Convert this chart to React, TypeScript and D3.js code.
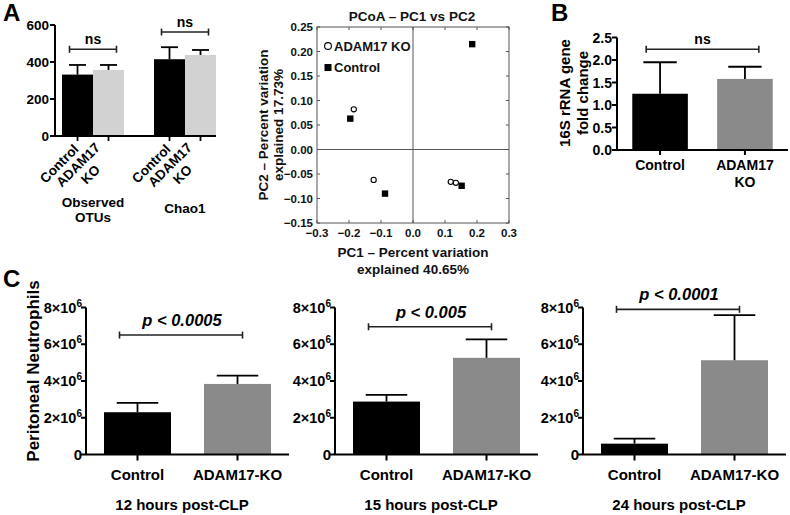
import React from 'react';
import * as d3 from 'd3';

const FONT = '"Liberation Sans", Arial, Helvetica, sans-serif';

// ---------- Panel A: alpha diversity ----------
const alphaGroups = ['Observed OTUs', 'Chao1'];
const alphaGroupLines = [['Observed', 'OTUs'], ['Chao1']];
const alphaCats = ['Control', 'ADAM17 KO'];
const alphaMeans = [[332, 357], [415, 438]];
const alphaErr = [[384, 384], [480, 465]];
const alphaTicks = [0, 200, 400, 600];
const alphaSig = ['ns', 'ns'];
const alphaSigY = [469, 562];
const alphaColors = ['#000000', '#d2d2d2'];

// ---------- PCoA ----------
const pcoaKO = [[-0.185, 0.082], [-0.123, -0.062], [0.118, -0.066], [0.134, -0.068]];
const pcoaCtrl = [[-0.196, 0.063], [-0.0875, -0.09], [0.152, -0.074], [0.185, 0.215]];
const pcoaXTicks = [-0.3, -0.2, -0.1, 0.0, 0.1, 0.2, 0.3];
const pcoaYTicks = [-0.15, -0.1, -0.05, 0.0, 0.05, 0.1, 0.15, 0.2, 0.25];

// ---------- Panel B: 16S ----------
const qpcrCats = ['Control', 'ADAM17 KO'];
const qpcrMeans = [1.25, 1.58];
const qpcrErr = [1.95, 1.85];
const qpcrTicks = [0, 0.5, 1.0, 1.5, 2.0, 2.5];
const qpcrSigY = 2.24;
const bColors = ['#000000', '#8a8a8a'];

// ---------- Panel C: neutrophils ----------
const clpTimes = ['12 hours post-CLP', '15 hours post-CLP', '24 hours post-CLP'];
const clpCats = ['Control', 'ADAM17-KO'];
const clpMeans = [[2.3e6, 3.84e6], [2.88e6, 5.26e6], [0.59e6, 5.13e6]];
const clpErr = [[2.81e6, 4.29e6], [3.24e6, 6.27e6], [0.86e6, 7.58e6]];
const clpP = ['p < 0.0005', 'p < 0.005', 'p < 0.0001'];
const clpSigY = [6.5e6, 6.95e6, 7.9e6];
const clpTicks = [0, 2e6, 4e6, 6e6, 8e6];

function Bracket({ x1, x2, y }: { x1: number; x2: number; y: number }) {
  return (
    <g stroke="#222" strokeWidth={1.6}>
      <line x1={x1} x2={x2} y1={y} y2={y} />
      <line x1={x1} x2={x1} y1={y - 3.5} y2={y + 3.5} />
      <line x1={x2} x2={x2} y1={y - 3.5} y2={y + 3.5} />
    </g>
  );
}

function ErrBar({ cx, y1, y2, w }: { cx: number; y1: number; y2: number; w: number }) {
  return (
    <g stroke="#000" strokeWidth={1.8}>
      <line x1={cx} x2={cx} y1={y1} y2={y2} />
      <line x1={cx - w / 2} x2={cx + w / 2} y1={y2} y2={y2} />
    </g>
  );
}

function PanelA() {
  const y = d3.scaleLinear().domain([0, 600]).range([136, 25]);
  const gx = d3.scaleBand().domain(alphaGroups).range([62, 216]).paddingInner(0.326).paddingOuter(0);
  const ix = d3.scaleBand().domain(alphaCats).range([0, gx.bandwidth()]);
  const axX = 55;
  return (
    <g fontFamily={FONT} fontWeight="bold">
      {alphaGroups.map((g, gi) => {
        const t0 = (gx(g) as number) + ix.bandwidth() / 2;
        const t1 = (gx(g) as number) + ix.bandwidth() * 1.5;
        return (
          <g key={g}>
            {alphaCats.map((c, ci) => {
              const x0 = (gx(g) as number) + (ix(c) as number);
              const w = ix.bandwidth();
              return (
                <g key={c}>
                  <rect x={x0} y={y(alphaMeans[gi][ci])} width={w} height={y(0) - y(alphaMeans[gi][ci])} fill={alphaColors[ci]} />
                  <ErrBar cx={x0 + w / 2} y1={y(alphaMeans[gi][ci])} y2={y(alphaErr[gi][ci])} w={w * 0.55} />
                  <line x1={x0 + w / 2} x2={x0 + w / 2} y1={y(0)} y2={y(0) + 5} stroke="#000" strokeWidth={1.8} />
                </g>
              );
            })}
            <Bracket x1={t0 - 8} x2={t1 + 8} y={y(alphaSigY[gi])} />
            <text x={(t0 + t1) / 2} y={y(alphaSigY[gi]) - 5} textAnchor="middle" fontSize={14}>{alphaSig[gi]}</text>
            <g transform={`translate(${t0},${y(0)}) rotate(-45)`}>
              <text x={-8.5} y={11.3} textAnchor="end" fontSize={13.5}>Control</text>
            </g>
            <g transform={`translate(${t1},${y(0)}) rotate(-45)`}>
              <text textAnchor="middle" fontSize={13.5}>
                <tspan x={-42} y={3.5}>ADAM17</tspan>
                <tspan x={-40} y={19}>KO</tspan>
              </text>
            </g>
            <text textAnchor="middle" fontSize={13.5}>
              {alphaGroupLines[gi].map((l, li) => (
                <tspan key={li} x={(t0 + t1) / 2} y={(alphaGroupLines[gi].length === 1 ? 213 : 207) + li * 15}>{l}</tspan>
              ))}
            </text>
          </g>
        );
      })}
      <line x1={axX} x2={axX} y1={y(600)} y2={y(0)} stroke="#000" strokeWidth={2} />
      <line x1={axX} x2={216} y1={y(0)} y2={y(0)} stroke="#000" strokeWidth={2} />
      {alphaTicks.map((t) => (
        <g key={t}>
          <line x1={axX - 5} x2={axX} y1={y(t)} y2={y(t)} stroke="#000" strokeWidth={2} />
          <text x={axX - 6} y={y(t) + 5} textAnchor="end" fontSize={13.5}>{t}</text>
        </g>
      ))}
      <text x={3} y={21} fontSize={24}>A</text>
    </g>
  );
}

function PanelPCoA() {
  const x = d3.scaleLinear().domain([-0.3, 0.3]).range([317, 509]);
  const y = d3.scaleLinear().domain([-0.15, 0.25]).range([223, 27]);
  const fmtX = d3.format('.1f');
  const fmtY = d3.format('.2f');
  const gray = '#555';
  return (
    <g fontFamily={FONT} fontWeight="bold" fill="#111">
      <rect x={x(-0.3)} y={y(0.25)} width={x(0.3) - x(-0.3)} height={y(-0.15) - y(0.25)} fill="none" stroke={gray} strokeWidth={1} />
      <line x1={x(0)} x2={x(0)} y1={y(0.25)} y2={y(-0.15)} stroke={gray} strokeWidth={1} />
      <line x1={x(-0.3)} x2={x(0.3)} y1={y(0)} y2={y(0)} stroke={gray} strokeWidth={1} />
      {pcoaXTicks.map((t) => (
        <g key={t}>
          <line x1={x(t)} x2={x(t)} y1={y(-0.15)} y2={y(-0.15) - 3} stroke={gray} />
          <line x1={x(t)} x2={x(t)} y1={y(0.25)} y2={y(0.25) + 3} stroke={gray} />
          <text x={x(t)} y={y(-0.15) + 14} textAnchor="middle" fontSize={11.5}>{fmtX(t)}</text>
        </g>
      ))}
      {pcoaYTicks.map((t) => (
        <g key={t}>
          <line x1={x(-0.3)} x2={x(-0.3) + 3} y1={y(t)} y2={y(t)} stroke={gray} />
          <line x1={x(0.3)} x2={x(0.3) - 3} y1={y(t)} y2={y(t)} stroke={gray} />
          <text x={x(-0.3) - 4} y={y(t) + 4} textAnchor="end" fontSize={11.5}>{fmtY(t)}</text>
        </g>
      ))}
      {pcoaKO.map((p, i) => (
        <circle key={'k' + i} cx={x(p[0])} cy={y(p[1])} r={2.6} fill="#fff" stroke="#000" strokeWidth={1.1} />
      ))}
      {pcoaCtrl.map((p, i) => (
        <rect key={'c' + i} x={x(p[0]) - 3.2} y={y(p[1]) - 3.2} width={6.4} height={6.4} fill="#000" />
      ))}
      <circle cx={328} cy={46} r={3.4} fill="#fff" stroke="#000" strokeWidth={1.1} />
      <text x={334} y={51} fontSize={13}>ADAM17 KO</text>
      <rect x={324.5} y={64} width={7} height={7} fill="#000" />
      <text x={334} y={72} fontSize={13}>Control</text>
      <text x={412} y={21} textAnchor="middle" fontSize={13.5}>PCoA – PC1 vs PC2</text>
      <text transform={`translate(268,125) rotate(-90)`} textAnchor="middle" fontSize={13.5}>PC2 – Percent variation</text>
      <text transform={`translate(283,125) rotate(-90)`} textAnchor="middle" fontSize={13.5}>explained 17.73%</text>
      <text x={413} y={257} textAnchor="middle" fontSize={13.5}>PC1 – Percent variation</text>
      <text x={413} y={274} textAnchor="middle" fontSize={13.5}>explained 40.65%</text>
    </g>
  );
}

function PanelB() {
  const y = d3.scaleLinear().domain([0, 2.5]).range([150, 37.5]);
  const axX = 617;
  const x = d3.scaleBand().domain(qpcrCats).range([axX, 788]).paddingInner(0.345).paddingOuter(0.18);
  const fmt = d3.format('.1f');
  const w = x.bandwidth();
  return (
    <g fontFamily={FONT} fontWeight="bold">
      {qpcrCats.map((c, i) => {
        const x0 = x(c) as number;
        return (
          <g key={c}>
            <rect x={x0} y={y(qpcrMeans[i])} width={w} height={y(0) - y(qpcrMeans[i])} fill={bColors[i]} />
            <ErrBar cx={x0 + w / 2} y1={y(qpcrMeans[i])} y2={y(qpcrErr[i])} w={w * 0.6} />
            <line x1={x0 + w / 2} x2={x0 + w / 2} y1={y(0)} y2={y(0) + 5} stroke="#000" strokeWidth={2} />
          </g>
        );
      })}
      <line x1={axX} x2={axX} y1={y(2.5)} y2={y(0)} stroke="#000" strokeWidth={2} />
      <line x1={axX} x2={788} y1={y(0)} y2={y(0)} stroke="#000" strokeWidth={2} />
      {qpcrTicks.map((t) => (
        <g key={t}>
          <line x1={axX - 5} x2={axX} y1={y(t)} y2={y(t)} stroke="#000" strokeWidth={2} />
          <text x={axX - 5} y={y(t) + 5} textAnchor="end" fontSize={14}>{fmt(t)}</text>
        </g>
      ))}
      <Bracket x1={(x(qpcrCats[0]) as number) + w / 4} x2={(x(qpcrCats[1]) as number) + w * 0.75} y={y(qpcrSigY)} />
      <text x={((x(qpcrCats[0]) as number) + (x(qpcrCats[1]) as number) + w) / 2} y={y(qpcrSigY) - 5} textAnchor="middle" fontSize={14}>ns</text>
      <text x={(x(qpcrCats[0]) as number) + w / 2} y={170} textAnchor="middle" fontSize={14}>Control</text>
      <text textAnchor="middle" fontSize={14}>
        <tspan x={(x(qpcrCats[1]) as number) + w / 2} y={170}>ADAM17</tspan>
        <tspan x={(x(qpcrCats[1]) as number) + w / 2} y={187}>KO</tspan>
      </text>
      <text transform={`translate(570,93) rotate(-90)`} textAnchor="middle" fontSize={15}>16S rRNA gene</text>
      <text transform={`translate(588,93) rotate(-90)`} textAnchor="middle" fontSize={15}>fold change</text>
      <text x={551} y={21} fontSize={24}>B</text>
    </g>
  );
}

const cAxisX = [86, 335, 583];

function PanelC() {
  const y = d3.scaleLinear().domain([0, 8e6]).range([454.5, 307.5]);
  return (
    <g fontFamily={FONT} fontWeight="bold">
      {clpTimes.map((tm, pi) => {
        const ax = cAxisX[pi];
        const x = d3.scaleBand().domain(clpCats).range([ax, ax + 203]).paddingInner(0.33).paddingOuter(0.18);
        const w = x.bandwidth();
        const c0 = (x(clpCats[0]) as number) + w / 2;
        const c1 = (x(clpCats[1]) as number) + w / 2;
        return (
          <g key={tm}>
            {clpCats.map((c, i) => {
              const x0 = x(c) as number;
              return (
                <g key={c}>
                  <rect x={x0} y={y(clpMeans[pi][i])} width={w} height={y(0) - y(clpMeans[pi][i])} fill={bColors[i]} />
                  <ErrBar cx={x0 + w / 2} y1={y(clpMeans[pi][i])} y2={y(clpErr[pi][i])} w={w * 0.62} />
                  <line x1={x0 + w / 2} x2={x0 + w / 2} y1={y(0)} y2={y(0) + 6} stroke="#000" strokeWidth={2} />
                  <text x={x0 + w / 2} y={480} textAnchor="middle" fontSize={15}>{c}</text>
                </g>
              );
            })}
            <line x1={ax} x2={ax} y1={y(8e6)} y2={y(0)} stroke="#000" strokeWidth={2} />
            <line x1={ax} x2={ax + 203} y1={y(0)} y2={y(0)} stroke="#000" strokeWidth={2} />
            {clpTicks.map((t) => (
              <g key={t}>
                <line x1={ax - 5} x2={ax} y1={y(t)} y2={y(t)} stroke="#000" strokeWidth={2} />
                {t === 0 ? (
                  <text x={ax - 4} y={y(t) + 5} textAnchor="end" fontSize={15}>0</text>
                ) : (
                  <text x={ax - 4} y={y(t) + 5} textAnchor="end" fontSize={14.5}>
                    {`${t / 1e6}×10`}
                    <tspan fontSize={10} dy={-6}>6</tspan>
                  </text>
                )}
              </g>
            ))}
            <Bracket x1={c0 - 18} x2={c1 + 5} y={y(clpSigY[pi])} />
            <text x={ax + 96} y={y(clpSigY[pi]) - 9} textAnchor="middle" fontSize={16.5} fontStyle="italic">{clpP[pi]}</text>
            <text x={ax + 96} y={510} textAnchor="middle" fontSize={15}>{tm}</text>
          </g>
        );
      })}
      <text transform={`translate(39,371) rotate(-90)`} textAnchor="middle" fontSize={17}>Peritoneal Neutrophils</text>
      <text x={3} y={287} fontSize={24}>C</text>
    </g>
  );
}

export default function App() {
  return (
    <svg width={790} height={515} viewBox="0 0 790 515" style={{ position: 'absolute', left: 0, top: 0, background: '#fff' }}>
      <rect width={790} height={515} fill="#fff" />
      <PanelA />
      <PanelPCoA />
      <PanelB />
      <PanelC />
    </svg>
  );
}
